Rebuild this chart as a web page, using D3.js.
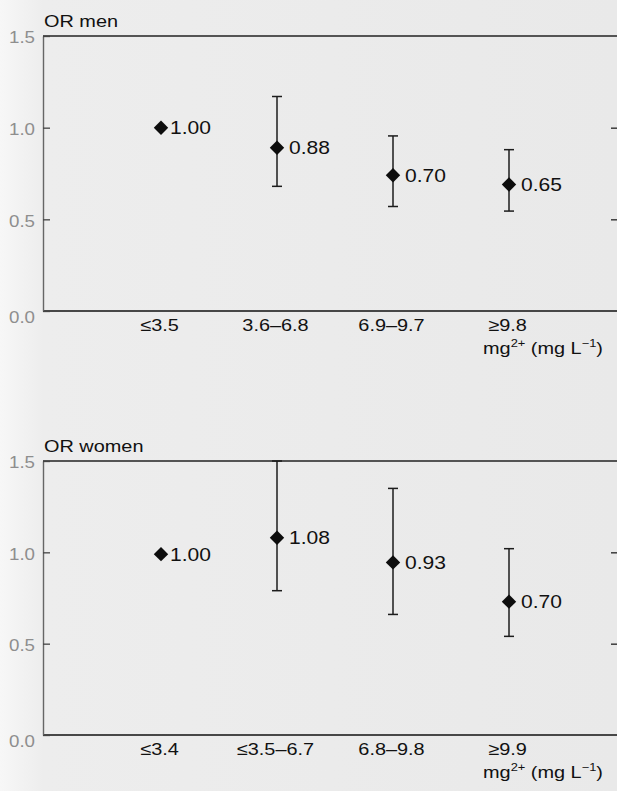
<!DOCTYPE html>
<html>
<head>
<meta charset="utf-8">
<script src="https://cdn.jsdelivr.net/npm/d3@7"></script>
<style>
  body { margin: 0; background: #ebebeb; }
  svg { display: block; font-family: "Liberation Sans", Arial, sans-serif; }
</style>
</head>
<body>
<div id="container"></div>
<script>
'use strict'

// odds ratios (points sit a little above their printed values)
const menGroups = ['≤3.5', '3.6–6.8', '6.9–9.7', '≥9.8']
const menOR = [1.00, 0.89, 0.74, 0.69]
const menLow = [null, 0.68, 0.57, 0.545]
const menHigh = [null, 1.17, 0.955, 0.88]
const menText = ['1.00', '0.88', '0.70', '0.65']

const womenGroups = ['≤3.4', '≤3.5–6.7', '6.8–9.8', '≥9.9']
const womenOR = [0.99, 1.08, 0.945, 0.73]
const womenLow = [null, 0.79, 0.66, 0.54]
const womenHigh = [null, 1.50, 1.35, 1.02]
const womenText = ['1.00', '1.08', '0.93', '0.70']

const yTicks = [0, 0.5, 1.0, 1.5]
const rightTicks = [0.5, 1.0]

const w = 617
const h = 791
const left = 43
const right = 625
const sx = 1.17   // the printed type is a bit wider than the installed fonts

const svg = d3.select('#container')
              .append('svg')
              .attr('width', w)
              .attr('height', h)

// paper, lighter towards the binding edge
const grad = svg.append('defs').append('linearGradient').attr('id', 'paper')
grad.append('stop').attr('offset', '0%').attr('stop-color', '#f7f7f7')
grad.append('stop').attr('offset', '7%').attr('stop-color', '#ededed')
grad.append('stop').attr('offset', '100%').attr('stop-color', '#e9e9e9')
svg.append('rect').attr('width', w).attr('height', h).attr('fill', 'url(#paper)')

function wideText(sel, x, y) {
  return sel.attr('transform', 'translate(' + x + ',' + y + ') scale(' + sx + ',1)')
}

function panel(top, bottom, name, groups, or, low, high, labels) {
  const x = d3.scalePoint().domain(groups).range([45, right]).padding(1)
  const y = d3.scaleLinear().domain([0, 1.5]).range([bottom, top])
  const g = svg.append('g')

  // top and bottom of the box
  g.append('line')
   .attr('x1', left).attr('x2', right).attr('y1', y(1.5)).attr('y2', y(1.5))
   .attr('stroke', '#222').attr('stroke-width', 1.5)
  g.append('line')
   .attr('x1', left).attr('x2', right).attr('y1', y(0)).attr('y2', y(0))
   .attr('stroke', '#111').attr('stroke-width', 1.6)

  // left axis, ticks pointing in
  const yAxis = d3.axisLeft(y).tickValues(yTicks).tickSizeInner(-7).tickSizeOuter(0)
                  .tickPadding(8).tickFormat(d3.format('.1f'))
  const ya = g.append('g').attr('transform', 'translate(' + left + ',0)').call(yAxis)
  ya.select('.domain').attr('stroke', '#666').attr('stroke-width', 1.4)
  ya.selectAll('.tick line').attr('stroke', '#444').attr('stroke-width', 1.3)
  ya.selectAll('.tick text')
    .attr('font-size', 16).attr('fill', '#8e8e8e').attr('font-family', null)
    .each(function(d) {
      d3.select(this).attr('x', null).attr('dy', '0.36em')
      wideText(d3.select(this), -8, d === 0 ? 6 : 1)
    })

  // right axis (the frame runs off the page)
  const rAxis = d3.axisRight(y).tickValues(rightTicks).tickSizeInner(-14).tickSizeOuter(0).tickFormat('')
  const ra = g.append('g').attr('transform', 'translate(' + right + ',0)').call(rAxis)
  ra.select('.domain').attr('stroke', '#222').attr('stroke-width', 1.4)
  ra.selectAll('.tick line').attr('stroke', '#222').attr('stroke-width', 1.3)

  // category labels
  const xAxis = d3.axisBottom(x).tickSize(0).tickPadding(0)
  const xa = g.append('g').attr('transform', 'translate(-2,' + bottom + ')').call(xAxis)
  xa.select('.domain').remove()
  xa.selectAll('.tick text')
    .attr('font-size', 17).attr('fill', '#111').attr('font-family', null)
    .attr('y', null).attr('dy', '0.36em')
    .each(function() { wideText(d3.select(this), 0, 14) })

  // OR label above the frame
  wideText(g.append('text').attr('font-size', 17).attr('fill', '#111').text(name), 44, top - 9)

  // axis title with superscripts
  const t = wideText(g.append('text').attr('font-size', 17).attr('fill', '#111'), 483, bottom + 43)
  t.append('tspan').text('mg')
  t.append('tspan').attr('font-size', 11).attr('dy', -7).text('2+')
  t.append('tspan').attr('dy', 7).text(' (mg L')
  t.append('tspan').attr('font-size', 11).attr('dy', -7).text('−1')
  t.append('tspan').attr('dy', 7).text(')')

  const idx = d3.range(groups.length)

  // confidence intervals
  const bars = idx.filter(i => low[i] !== null)
  g.selectAll('.ci').data(bars).enter().append('line')
   .attr('x1', i => x(groups[i])).attr('x2', i => x(groups[i]))
   .attr('y1', i => y(low[i])).attr('y2', i => y(high[i]))
   .attr('stroke', '#1c1c1c').attr('stroke-width', 1.5)
  g.selectAll('.capLo').data(bars).enter().append('line')
   .attr('x1', i => x(groups[i]) - 5).attr('x2', i => x(groups[i]) + 5)
   .attr('y1', i => y(low[i])).attr('y2', i => y(low[i]))
   .attr('stroke', '#1c1c1c').attr('stroke-width', 1.5)
  g.selectAll('.capHi').data(bars).enter().append('line')
   .attr('x1', i => x(groups[i]) - 5).attr('x2', i => x(groups[i]) + 5)
   .attr('y1', i => y(high[i])).attr('y2', i => y(high[i]))
   .attr('stroke', '#1c1c1c').attr('stroke-width', 1.5)

  // diamonds
  g.selectAll('.pt').data(idx).enter().append('path')
   .attr('d', d3.symbol(d3.symbolSquare, 104))
   .attr('transform', i => 'translate(' + x(groups[i]) + ',' + y(or[i]) + ') rotate(45)')
   .attr('fill', '#0d0d0d')

  // printed values
  g.selectAll('.val').data(idx).enter().append('text')
   .attr('font-size', 18).attr('fill', '#111').attr('dy', '0.36em')
   .text(i => labels[i])
   .each(function(i) {
     wideText(d3.select(this), x(groups[i]) + (low[i] === null ? 9 : 12), y(or[i]))
   })
}

panel(36, 311, 'OR men', menGroups, menOR, menLow, menHigh, menText)
panel(461, 735, 'OR women', womenGroups, womenOR, womenLow, womenHigh, womenText)
</script>
</body>
</html>
